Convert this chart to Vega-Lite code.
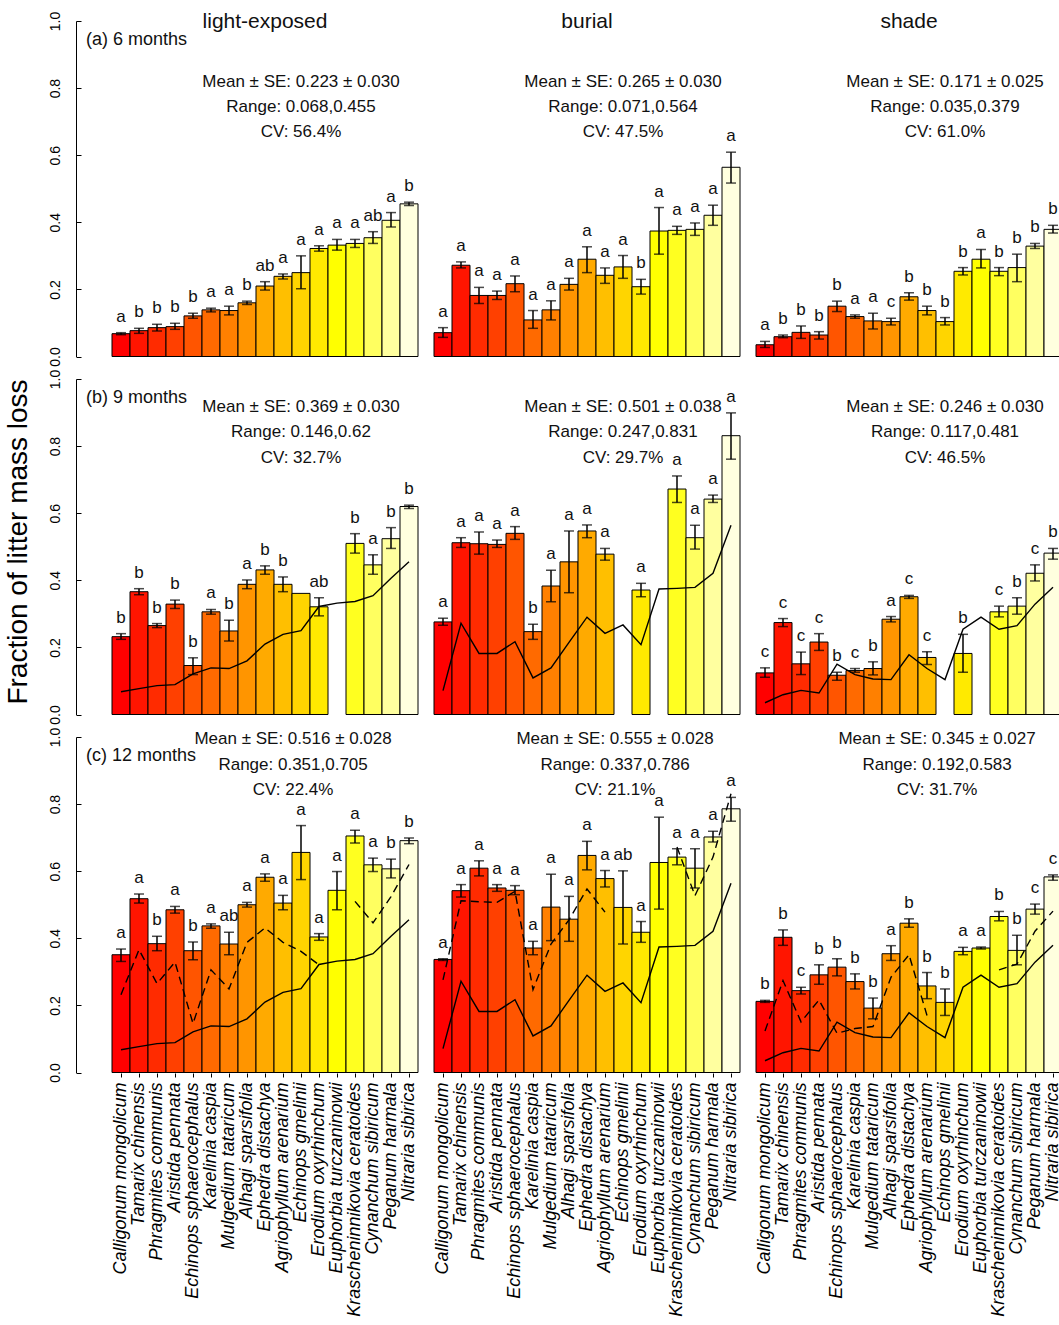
{
"$schema": "https://vega.github.io/schema/vega-lite/v6.json",
"padding": {"left": 4, "top": 11, "right": 0, "bottom": 0},
"background": "white",
"bounds": "flush",
"spacing": {"row": 22, "column": 16},
"data": {"values": [
{"m":6,"c":"light-exposed","s":"Calligonum mongolicum","v":0.068,"lo":0.065,"hi":0.071,"g":"a"},
{"m":6,"c":"light-exposed","s":"Tamarix chinensis","v":0.077,"lo":0.069,"hi":0.084,"g":"b"},
{"m":6,"c":"light-exposed","s":"Phragmites communis","v":0.086,"lo":0.076,"hi":0.096,"g":"b"},
{"m":6,"c":"light-exposed","s":"Aristida pennata","v":0.089,"lo":0.081,"hi":0.099,"g":"b"},
{"m":6,"c":"light-exposed","s":"Echinops sphaerocephalus","v":0.121,"lo":0.114,"hi":0.129,"g":"b"},
{"m":6,"c":"light-exposed","s":"Karelinia caspia","v":0.139,"lo":0.133,"hi":0.144,"g":"a"},
{"m":6,"c":"light-exposed","s":"Mulgedium tataricum","v":0.137,"lo":0.124,"hi":0.150,"g":"a"},
{"m":6,"c":"light-exposed","s":"Alhagi sparsifolia","v":0.160,"lo":0.155,"hi":0.165,"g":"b"},
{"m":6,"c":"light-exposed","s":"Ephedra distachya","v":0.210,"lo":0.198,"hi":0.223,"g":"ab"},
{"m":6,"c":"light-exposed","s":"Agriophyllum arenarium","v":0.239,"lo":0.231,"hi":0.246,"g":"a"},
{"m":6,"c":"light-exposed","s":"Echinops gmelinii","v":0.250,"lo":0.202,"hi":0.300,"g":"a"},
{"m":6,"c":"light-exposed","s":"Erodium oxyrhinchum","v":0.322,"lo":0.314,"hi":0.330,"g":"a"},
{"m":6,"c":"light-exposed","s":"Euphorbia turczaninowii","v":0.332,"lo":0.317,"hi":0.349,"g":"a"},
{"m":6,"c":"light-exposed","s":"Krascheninnikovia ceratoides","v":0.337,"lo":0.325,"hi":0.349,"g":"a"},
{"m":6,"c":"light-exposed","s":"Cynanchum sibiricum","v":0.354,"lo":0.337,"hi":0.372,"g":"ab"},
{"m":6,"c":"light-exposed","s":"Peganum harmala","v":0.406,"lo":0.386,"hi":0.429,"g":"a"},
{"m":6,"c":"light-exposed","s":"Nitraria sibirica","v":0.455,"lo":0.450,"hi":0.460,"g":"b"},
{"m":6,"c":"burial","s":"Calligonum mongolicum","v":0.071,"lo":0.057,"hi":0.086,"g":"a"},
{"m":6,"c":"burial","s":"Tamarix chinensis","v":0.272,"lo":0.264,"hi":0.282,"g":"a"},
{"m":6,"c":"burial","s":"Phragmites communis","v":0.182,"lo":0.158,"hi":0.206,"g":"a"},
{"m":6,"c":"burial","s":"Aristida pennata","v":0.182,"lo":0.170,"hi":0.195,"g":"a"},
{"m":6,"c":"burial","s":"Echinops sphaerocephalus","v":0.217,"lo":0.193,"hi":0.240,"g":"a"},
{"m":6,"c":"burial","s":"Karelinia caspia","v":0.109,"lo":0.084,"hi":0.137,"g":"a"},
{"m":6,"c":"burial","s":"Mulgedium tataricum","v":0.139,"lo":0.109,"hi":0.166,"g":"a"},
{"m":6,"c":"burial","s":"Alhagi sparsifolia","v":0.215,"lo":0.198,"hi":0.233,"g":"a"},
{"m":6,"c":"burial","s":"Ephedra distachya","v":0.290,"lo":0.250,"hi":0.327,"g":"a"},
{"m":6,"c":"burial","s":"Agriophyllum arenarium","v":0.242,"lo":0.218,"hi":0.264,"g":"a"},
{"m":6,"c":"burial","s":"Echinops gmelinii","v":0.267,"lo":0.233,"hi":0.301,"g":"a"},
{"m":6,"c":"burial","s":"Erodium oxyrhinchum","v":0.208,"lo":0.186,"hi":0.230,"g":"b"},
{"m":6,"c":"burial","s":"Euphorbia turczaninowii","v":0.374,"lo":0.305,"hi":0.444,"g":"a"},
{"m":6,"c":"burial","s":"Krascheninnikovia ceratoides","v":0.376,"lo":0.364,"hi":0.388,"g":"a"},
{"m":6,"c":"burial","s":"Cynanchum sibiricum","v":0.379,"lo":0.361,"hi":0.398,"g":"a"},
{"m":6,"c":"burial","s":"Peganum harmala","v":0.421,"lo":0.391,"hi":0.451,"g":"a"},
{"m":6,"c":"burial","s":"Nitraria sibirica","v":0.564,"lo":0.517,"hi":0.609,"g":"a"},
{"m":6,"c":"shade","s":"Calligonum mongolicum","v":0.035,"lo":0.027,"hi":0.045,"g":"a"},
{"m":6,"c":"shade","s":"Tamarix chinensis","v":0.059,"lo":0.056,"hi":0.064,"g":"b"},
{"m":6,"c":"shade","s":"Phragmites communis","v":0.072,"lo":0.054,"hi":0.091,"g":"b"},
{"m":6,"c":"shade","s":"Aristida pennata","v":0.064,"lo":0.052,"hi":0.074,"g":"b"},
{"m":6,"c":"shade","s":"Echinops sphaerocephalus","v":0.150,"lo":0.134,"hi":0.165,"g":"b"},
{"m":6,"c":"shade","s":"Karelinia caspia","v":0.119,"lo":0.114,"hi":0.124,"g":"a"},
{"m":6,"c":"shade","s":"Mulgedium tataricum","v":0.106,"lo":0.082,"hi":0.129,"g":"a"},
{"m":6,"c":"shade","s":"Alhagi sparsifolia","v":0.104,"lo":0.094,"hi":0.114,"g":"c"},
{"m":6,"c":"shade","s":"Ephedra distachya","v":0.178,"lo":0.168,"hi":0.190,"g":"b"},
{"m":6,"c":"shade","s":"Agriophyllum arenarium","v":0.137,"lo":0.124,"hi":0.150,"g":"b"},
{"m":6,"c":"shade","s":"Echinops gmelinii","v":0.104,"lo":0.094,"hi":0.116,"g":"b"},
{"m":6,"c":"shade","s":"Erodium oxyrhinchum","v":0.254,"lo":0.243,"hi":0.265,"g":"b"},
{"m":6,"c":"shade","s":"Euphorbia turczaninowii","v":0.290,"lo":0.264,"hi":0.319,"g":"a"},
{"m":6,"c":"shade","s":"Krascheninnikovia ceratoides","v":0.254,"lo":0.241,"hi":0.265,"g":"b"},
{"m":6,"c":"shade","s":"Cynanchum sibiricum","v":0.265,"lo":0.223,"hi":0.305,"g":"b"},
{"m":6,"c":"shade","s":"Peganum harmala","v":0.329,"lo":0.322,"hi":0.337,"g":"b"},
{"m":6,"c":"shade","s":"Nitraria sibirica","v":0.379,"lo":0.368,"hi":0.391,"g":"b"},
{"m":9,"c":"light-exposed","s":"Calligonum mongolicum","v":0.232,"lo":0.224,"hi":0.241,"g":"b","a6":0.068},
{"m":9,"c":"light-exposed","s":"Tamarix chinensis","v":0.366,"lo":0.357,"hi":0.375,"g":"b","a6":0.077},
{"m":9,"c":"light-exposed","s":"Phragmites communis","v":0.265,"lo":0.259,"hi":0.271,"g":"b","a6":0.086},
{"m":9,"c":"light-exposed","s":"Aristida pennata","v":0.329,"lo":0.316,"hi":0.341,"g":"b","a6":0.089},
{"m":9,"c":"light-exposed","s":"Echinops sphaerocephalus","v":0.146,"lo":0.119,"hi":0.169,"g":"b","a6":0.121},
{"m":9,"c":"light-exposed","s":"Karelinia caspia","v":0.306,"lo":0.299,"hi":0.313,"g":"a","a6":0.139},
{"m":9,"c":"light-exposed","s":"Mulgedium tataricum","v":0.249,"lo":0.219,"hi":0.281,"g":"b","a6":0.137},
{"m":9,"c":"light-exposed","s":"Alhagi sparsifolia","v":0.388,"lo":0.375,"hi":0.401,"g":"a","a6":0.160},
{"m":9,"c":"light-exposed","s":"Ephedra distachya","v":0.431,"lo":0.418,"hi":0.443,"g":"b","a6":0.210},
{"m":9,"c":"light-exposed","s":"Agriophyllum arenarium","v":0.388,"lo":0.366,"hi":0.410,"g":"b","a6":0.239},
{"m":9,"c":"light-exposed","s":"Echinops gmelinii","v":0.361,"lo":null,"hi":null,"g":"","a6":0.250},
{"m":9,"c":"light-exposed","s":"Erodium oxyrhinchum","v":0.321,"lo":0.294,"hi":0.348,"g":"ab","a6":0.322},
{"m":9,"c":"light-exposed","s":"Euphorbia turczaninowii","v":null,"lo":null,"hi":null,"g":"","a6":0.332},
{"m":9,"c":"light-exposed","s":"Krascheninnikovia ceratoides","v":0.510,"lo":0.481,"hi":0.539,"g":"b","a6":0.337},
{"m":9,"c":"light-exposed","s":"Cynanchum sibiricum","v":0.446,"lo":0.418,"hi":0.476,"g":"a","a6":0.354},
{"m":9,"c":"light-exposed","s":"Peganum harmala","v":0.524,"lo":0.495,"hi":0.557,"g":"b","a6":0.406},
{"m":9,"c":"light-exposed","s":"Nitraria sibirica","v":0.620,"lo":0.614,"hi":0.624,"g":"b","a6":0.455},
{"m":9,"c":"burial","s":"Calligonum mongolicum","v":0.276,"lo":0.266,"hi":0.287,"g":"a","a6":0.071},
{"m":9,"c":"burial","s":"Tamarix chinensis","v":0.512,"lo":0.498,"hi":0.527,"g":"a","a6":0.272},
{"m":9,"c":"burial","s":"Phragmites communis","v":0.509,"lo":0.478,"hi":0.544,"g":"a","a6":0.182},
{"m":9,"c":"burial","s":"Aristida pennata","v":0.507,"lo":0.498,"hi":0.520,"g":"a","a6":0.182},
{"m":9,"c":"burial","s":"Echinops sphaerocephalus","v":0.540,"lo":0.522,"hi":0.560,"g":"a","a6":0.217},
{"m":9,"c":"burial","s":"Karelinia caspia","v":0.247,"lo":0.224,"hi":0.269,"g":"b","a6":0.109},
{"m":9,"c":"burial","s":"Mulgedium tataricum","v":0.383,"lo":0.336,"hi":0.430,"g":"a","a6":0.139},
{"m":9,"c":"burial","s":"Alhagi sparsifolia","v":0.455,"lo":0.363,"hi":0.547,"g":"a","a6":0.215},
{"m":9,"c":"burial","s":"Ephedra distachya","v":0.547,"lo":0.527,"hi":0.565,"g":"a","a6":0.290},
{"m":9,"c":"burial","s":"Agriophyllum arenarium","v":0.478,"lo":0.460,"hi":0.495,"g":"a","a6":0.242},
{"m":9,"c":"burial","s":"Echinops gmelinii","v":null,"lo":null,"hi":null,"g":"","a6":0.267},
{"m":9,"c":"burial","s":"Erodium oxyrhinchum","v":0.371,"lo":0.351,"hi":0.391,"g":"a","a6":0.208},
{"m":9,"c":"burial","s":"Euphorbia turczaninowii","v":null,"lo":null,"hi":null,"g":"","a6":0.374},
{"m":9,"c":"burial","s":"Krascheninnikovia ceratoides","v":0.672,"lo":0.632,"hi":0.711,"g":"a","a6":0.376},
{"m":9,"c":"burial","s":"Cynanchum sibiricum","v":0.527,"lo":0.493,"hi":0.564,"g":"a","a6":0.379},
{"m":9,"c":"burial","s":"Peganum harmala","v":0.642,"lo":0.632,"hi":0.654,"g":"a","a6":0.421},
{"m":9,"c":"burial","s":"Nitraria sibirica","v":0.831,"lo":0.761,"hi":0.899,"g":"a","a6":0.564},
{"m":9,"c":"shade","s":"Calligonum mongolicum","v":0.124,"lo":0.111,"hi":0.139,"g":"c","a6":0.035},
{"m":9,"c":"shade","s":"Tamarix chinensis","v":0.274,"lo":0.262,"hi":0.286,"g":"c","a6":0.059},
{"m":9,"c":"shade","s":"Phragmites communis","v":0.151,"lo":0.119,"hi":0.186,"g":"c","a6":0.072},
{"m":9,"c":"shade","s":"Aristida pennata","v":0.216,"lo":0.191,"hi":0.241,"g":"c","a6":0.064},
{"m":9,"c":"shade","s":"Echinops sphaerocephalus","v":0.117,"lo":0.102,"hi":0.126,"g":"b","a6":0.150},
{"m":9,"c":"shade","s":"Karelinia caspia","v":0.131,"lo":0.126,"hi":0.137,"g":"c","a6":0.119},
{"m":9,"c":"shade","s":"Mulgedium tataricum","v":0.137,"lo":0.118,"hi":0.157,"g":"b","a6":0.106},
{"m":9,"c":"shade","s":"Alhagi sparsifolia","v":0.284,"lo":0.276,"hi":0.292,"g":"a","a6":0.104},
{"m":9,"c":"shade","s":"Ephedra distachya","v":0.351,"lo":0.346,"hi":0.355,"g":"c","a6":0.178},
{"m":9,"c":"shade","s":"Agriophyllum arenarium","v":0.170,"lo":0.149,"hi":0.187,"g":"c","a6":0.137},
{"m":9,"c":"shade","s":"Echinops gmelinii","v":null,"lo":null,"hi":null,"g":"","a6":0.104},
{"m":9,"c":"shade","s":"Erodium oxyrhinchum","v":0.182,"lo":0.126,"hi":0.239,"g":"b","a6":0.254},
{"m":9,"c":"shade","s":"Euphorbia turczaninowii","v":null,"lo":null,"hi":null,"g":"","a6":0.290},
{"m":9,"c":"shade","s":"Krascheninnikovia ceratoides","v":0.306,"lo":0.291,"hi":0.323,"g":"c","a6":0.254},
{"m":9,"c":"shade","s":"Cynanchum sibiricum","v":0.323,"lo":0.299,"hi":0.348,"g":"b","a6":0.265},
{"m":9,"c":"shade","s":"Peganum harmala","v":0.421,"lo":0.398,"hi":0.446,"g":"c","a6":0.329},
{"m":9,"c":"shade","s":"Nitraria sibirica","v":0.481,"lo":0.463,"hi":0.495,"g":"b","a6":0.379},
{"m":12,"c":"light-exposed","s":"Calligonum mongolicum","v":0.351,"lo":0.331,"hi":0.368,"g":"a","a6":0.068,"a9":0.232},
{"m":12,"c":"light-exposed","s":"Tamarix chinensis","v":0.518,"lo":0.505,"hi":0.532,"g":"a","a6":0.077,"a9":0.366},
{"m":12,"c":"light-exposed","s":"Phragmites communis","v":0.384,"lo":0.363,"hi":0.406,"g":"b","a6":0.086,"a9":0.265},
{"m":12,"c":"light-exposed","s":"Aristida pennata","v":0.485,"lo":0.475,"hi":0.495,"g":"a","a6":0.089,"a9":0.329},
{"m":12,"c":"light-exposed","s":"Echinops sphaerocephalus","v":0.363,"lo":0.336,"hi":0.389,"g":"b","a6":0.121,"a9":0.146},
{"m":12,"c":"light-exposed","s":"Karelinia caspia","v":0.437,"lo":0.430,"hi":0.443,"g":"a","a6":0.139,"a9":0.306},
{"m":12,"c":"light-exposed","s":"Mulgedium tataricum","v":0.383,"lo":0.351,"hi":0.418,"g":"ab","a6":0.137,"a9":0.249},
{"m":12,"c":"light-exposed","s":"Alhagi sparsifolia","v":0.500,"lo":0.493,"hi":0.507,"g":"a","a6":0.160,"a9":0.388},
{"m":12,"c":"light-exposed","s":"Ephedra distachya","v":0.582,"lo":0.570,"hi":0.592,"g":"a","a6":0.210,"a9":0.431},
{"m":12,"c":"light-exposed","s":"Agriophyllum arenarium","v":0.505,"lo":0.485,"hi":0.528,"g":"a","a6":0.239,"a9":0.388},
{"m":12,"c":"light-exposed","s":"Echinops gmelinii","v":0.656,"lo":0.575,"hi":0.736,"g":"a","a6":0.250,"a9":0.361},
{"m":12,"c":"light-exposed","s":"Erodium oxyrhinchum","v":0.404,"lo":0.394,"hi":0.414,"g":"a","a6":0.322,"a9":0.321},
{"m":12,"c":"light-exposed","s":"Euphorbia turczaninowii","v":0.543,"lo":0.485,"hi":0.599,"g":"a","a6":0.332,"a9":null},
{"m":12,"c":"light-exposed","s":"Krascheninnikovia ceratoides","v":0.705,"lo":0.684,"hi":0.722,"g":"a","a6":0.337,"a9":0.510},
{"m":12,"c":"light-exposed","s":"Cynanchum sibiricum","v":0.619,"lo":0.599,"hi":0.639,"g":"a","a6":0.354,"a9":0.446},
{"m":12,"c":"light-exposed","s":"Peganum harmala","v":0.607,"lo":0.580,"hi":0.636,"g":"b","a6":0.406,"a9":0.524},
{"m":12,"c":"light-exposed","s":"Nitraria sibirica","v":0.691,"lo":0.682,"hi":0.699,"g":"b","a6":0.455,"a9":0.620},
{"m":12,"c":"burial","s":"Calligonum mongolicum","v":0.337,"lo":0.334,"hi":0.339,"g":"a","a6":0.071,"a9":0.276},
{"m":12,"c":"burial","s":"Tamarix chinensis","v":0.542,"lo":0.523,"hi":0.560,"g":"a","a6":0.272,"a9":0.512},
{"m":12,"c":"burial","s":"Phragmites communis","v":0.609,"lo":0.586,"hi":0.631,"g":"a","a6":0.182,"a9":0.509},
{"m":12,"c":"burial","s":"Aristida pennata","v":0.550,"lo":0.540,"hi":0.560,"g":"a","a6":0.182,"a9":0.507},
{"m":12,"c":"burial","s":"Echinops sphaerocephalus","v":0.543,"lo":0.530,"hi":0.557,"g":"a","a6":0.217,"a9":0.540},
{"m":12,"c":"burial","s":"Karelinia caspia","v":0.371,"lo":0.351,"hi":0.391,"g":"a","a6":0.109,"a9":0.247},
{"m":12,"c":"burial","s":"Mulgedium tataricum","v":0.493,"lo":0.393,"hi":0.591,"g":"a","a6":0.139,"a9":0.383},
{"m":12,"c":"burial","s":"Alhagi sparsifolia","v":0.457,"lo":0.391,"hi":0.525,"g":"a","a6":0.215,"a9":0.455},
{"m":12,"c":"burial","s":"Ephedra distachya","v":0.647,"lo":0.604,"hi":0.689,"g":"a","a6":0.290,"a9":0.547},
{"m":12,"c":"burial","s":"Agriophyllum arenarium","v":0.578,"lo":0.553,"hi":0.602,"g":"a","a6":0.242,"a9":0.478},
{"m":12,"c":"burial","s":"Echinops gmelinii","v":0.492,"lo":0.383,"hi":0.601,"g":"ab","a6":0.267,"a9":null},
{"m":12,"c":"burial","s":"Erodium oxyrhinchum","v":0.418,"lo":0.388,"hi":0.450,"g":"a","a6":0.208,"a9":0.371},
{"m":12,"c":"burial","s":"Euphorbia turczaninowii","v":0.626,"lo":0.487,"hi":0.761,"g":"a","a6":0.374,"a9":null},
{"m":12,"c":"burial","s":"Krascheninnikovia ceratoides","v":0.642,"lo":0.619,"hi":0.667,"g":"a","a6":0.376,"a9":0.672},
{"m":12,"c":"burial","s":"Cynanchum sibiricum","v":0.609,"lo":0.550,"hi":0.667,"g":"a","a6":0.379,"a9":0.527},
{"m":12,"c":"burial","s":"Peganum harmala","v":0.702,"lo":0.687,"hi":0.719,"g":"a","a6":0.421,"a9":0.642},
{"m":12,"c":"burial","s":"Nitraria sibirica","v":0.786,"lo":0.749,"hi":0.820,"g":"a","a6":0.564,"a9":0.831},
{"m":12,"c":"shade","s":"Calligonum mongolicum","v":0.212,"lo":0.209,"hi":0.215,"g":"b","a6":0.035,"a9":0.124},
{"m":12,"c":"shade","s":"Tamarix chinensis","v":0.403,"lo":0.379,"hi":0.425,"g":"b","a6":0.059,"a9":0.274},
{"m":12,"c":"shade","s":"Phragmites communis","v":0.244,"lo":0.234,"hi":0.254,"g":"c","a6":0.072,"a9":0.151},
{"m":12,"c":"shade","s":"Aristida pennata","v":0.291,"lo":0.263,"hi":0.321,"g":"b","a6":0.064,"a9":0.216},
{"m":12,"c":"shade","s":"Echinops sphaerocephalus","v":0.314,"lo":0.288,"hi":0.339,"g":"b","a6":0.150,"a9":0.117},
{"m":12,"c":"shade","s":"Karelinia caspia","v":0.271,"lo":0.249,"hi":0.294,"g":"b","a6":0.119,"a9":0.131},
{"m":12,"c":"shade","s":"Mulgedium tataricum","v":0.192,"lo":0.160,"hi":0.222,"g":"b","a6":0.106,"a9":0.137},
{"m":12,"c":"shade","s":"Alhagi sparsifolia","v":0.354,"lo":0.334,"hi":0.378,"g":"a","a6":0.104,"a9":0.284},
{"m":12,"c":"shade","s":"Ephedra distachya","v":0.445,"lo":0.433,"hi":0.458,"g":"b","a6":0.178,"a9":0.351},
{"m":12,"c":"shade","s":"Agriophyllum arenarium","v":0.258,"lo":0.220,"hi":0.298,"g":"b","a6":0.137,"a9":0.170},
{"m":12,"c":"shade","s":"Echinops gmelinii","v":0.209,"lo":0.170,"hi":0.249,"g":"b","a6":0.104,"a9":null},
{"m":12,"c":"shade","s":"Erodium oxyrhinchum","v":0.361,"lo":0.351,"hi":0.373,"g":"a","a6":0.254,"a9":0.182},
{"m":12,"c":"shade","s":"Euphorbia turczaninowii","v":0.371,"lo":0.368,"hi":0.374,"g":"a","a6":0.290,"a9":null},
{"m":12,"c":"shade","s":"Krascheninnikovia ceratoides","v":0.465,"lo":0.452,"hi":0.480,"g":"b","a6":0.254,"a9":0.306},
{"m":12,"c":"shade","s":"Cynanchum sibiricum","v":0.364,"lo":0.321,"hi":0.409,"g":"b","a6":0.265,"a9":0.323},
{"m":12,"c":"shade","s":"Peganum harmala","v":0.487,"lo":0.472,"hi":0.502,"g":"c","a6":0.329,"a9":0.421},
{"m":12,"c":"shade","s":"Nitraria sibirica","v":0.583,"lo":0.573,"hi":0.589,"g":"c","a6":0.379,"a9":0.481},
{"t":"ct","m":6,"c":"light-exposed","txt":"light-exposed"},
{"t":"ct","m":6,"c":"burial","txt":"burial"},
{"t":"ct","m":6,"c":"shade","txt":"shade"},
{"t":"pl","m":6,"c":"light-exposed","txt":"(a) 6 months"},
{"t":"pl","m":9,"c":"light-exposed","txt":"(b) 9 months"},
{"t":"pl","m":12,"c":"light-exposed","txt":"(c) 12 months"},
{"t":"st","m":6,"c":"light-exposed","txt":["Mean ± SE: 0.223 ± 0.030","Range: 0.068,0.455","CV: 56.4%"]},
{"t":"st","m":6,"c":"burial","txt":["Mean ± SE: 0.265 ± 0.030","Range: 0.071,0.564","CV: 47.5%"]},
{"t":"st","m":6,"c":"shade","txt":["Mean ± SE: 0.171 ± 0.025","Range: 0.035,0.379","CV: 61.0%"]},
{"t":"st","m":9,"c":"light-exposed","txt":["Mean ± SE: 0.369 ± 0.030","Range: 0.146,0.62","CV: 32.7%"]},
{"t":"st","m":9,"c":"burial","txt":["Mean ± SE: 0.501 ± 0.038","Range: 0.247,0.831","CV: 29.7%"]},
{"t":"st","m":9,"c":"shade","txt":["Mean ± SE: 0.246 ± 0.030","Range: 0.117,0.481","CV: 46.5%"]},
{"t":"st","m":12,"c":"light-exposed","txt":["Mean ± SE: 0.516 ± 0.028","Range: 0.351,0.705","CV: 22.4%"]},
{"t":"st","m":12,"c":"burial","txt":["Mean ± SE: 0.555 ± 0.028","Range: 0.337,0.786","CV: 21.1%"]},
{"t":"st","m":12,"c":"shade","txt":["Mean ± SE: 0.345 ± 0.027","Range: 0.192,0.583","CV: 31.7%"]}
]},
"facet": {
  "row": {"field": "m", "type": "ordinal", "sort": [6, 9, 12], "title": "Fraction of litter mass loss",
    "header": {"labels": false, "titleFontSize": 28, "titleFontWeight": "normal", "titleColor": "black", "titlePadding": 5.5, "titleFont": "Liberation Sans"}},
  "column": {"field": "c", "type": "nominal", "sort": ["light-exposed", "burial", "shade"], "title": null, "header": {"labels": false}}
},
"spec": {
  "width": 306,
  "height": 335.5,
  "layer": [
    {
      "transform": [{"filter": "isValid(datum.v)"}],
      "mark": {"type": "bar", "stroke": "black", "strokeWidth": 1},
      "encoding": {
        "x": {"field": "s", "type": "nominal",
          "scale": {"domain": ["Calligonum mongolicum","Tamarix chinensis","Phragmites communis","Aristida pennata","Echinops sphaerocephalus","Karelinia caspia","Mulgedium tataricum","Alhagi sparsifolia","Ephedra distachya","Agriophyllum arenarium","Echinops gmelinii","Erodium oxyrhinchum","Euphorbia turczaninowii","Krascheninnikovia ceratoides","Cynanchum sibiricum","Peganum harmala","Nitraria sibirica"], "paddingInner": 0, "paddingOuter": 0},
          "axis": {"title": null, "labelAngle": -90, "labelAlign": "right", "labelBaseline": "middle", "labelFontSize": 18, "labelFontStyle": "italic", "labelColor": "black", "labelPadding": 5, "labelLimit": 400, "labelOverlap": false, "tickSize": 4, "tickColor": "black", "domain": false}},
        "y": {"field": "v", "type": "quantitative",
          "scale": {"domain": [0, 1], "nice": false, "zero": true},
          "axis": {"title": null, "values": [0, 0.2, 0.4, 0.6, 0.8, 1], "format": ".1f", "offset": 36, "labelAngle": -90, "labelAlign": "center", "labelBaseline": "bottom", "labelFontSize": 14, "labelColor": "black", "labelPadding": 19, "tickSize": -5, "tickColor": "black", "domainColor": "black", "grid": false, "labelFlush": false, "labelOverlap": false}},
        "color": {"field": "s", "type": "nominal", "legend": null,
          "scale": {"domain": ["Calligonum mongolicum","Tamarix chinensis","Phragmites communis","Aristida pennata","Echinops sphaerocephalus","Karelinia caspia","Mulgedium tataricum","Alhagi sparsifolia","Ephedra distachya","Agriophyllum arenarium","Echinops gmelinii","Erodium oxyrhinchum","Euphorbia turczaninowii","Krascheninnikovia ceratoides","Cynanchum sibiricum","Peganum harmala","Nitraria sibirica"],
            "range": ["#FF0000","#FF1500","#FF2B00","#FF4000","#FF5500","#FF6A00","#FF8000","#FF9500","#FFAA00","#FFBF00","#FFD500","#FFEA00","#FFFF00","#FFFF20","#FFFF60","#FFFF9F","#FFFFDF"]}}
      }
    },
    {
      "transform": [{"filter": "isValid(datum.hi)"}],
      "mark": {"type": "rule", "color": "black", "strokeWidth": 1.5},
      "encoding": {"x": {"field": "s", "type": "nominal"}, "y": {"field": "lo", "type": "quantitative"}, "y2": {"field": "hi"}}
    },
    {
      "transform": [{"filter": "isValid(datum.hi)"}],
      "mark": {"type": "tick", "color": "black", "size": 10, "thickness": 1.5},
      "encoding": {"x": {"field": "s", "type": "nominal"}, "y": {"field": "lo", "type": "quantitative"}}
    },
    {
      "transform": [{"filter": "isValid(datum.hi)"}],
      "mark": {"type": "tick", "color": "black", "size": 10, "thickness": 1.5},
      "encoding": {"x": {"field": "s", "type": "nominal"}, "y": {"field": "hi", "type": "quantitative"}}
    },
    {
      "transform": [{"filter": "isValid(datum.hi)"}],
      "mark": {"type": "text", "fontSize": 17, "baseline": "alphabetic", "align": "center", "dy": -11, "color": "#111111"},
      "encoding": {"x": {"field": "s", "type": "nominal"}, "y": {"field": "hi", "type": "quantitative"}, "text": {"field": "g", "type": "nominal"}}
    },
    {
      "transform": [{"filter": "isValid(datum.a6)"}],
      "mark": {"type": "line", "color": "black", "strokeWidth": 1.4},
      "encoding": {"x": {"field": "s", "type": "nominal"}, "y": {"field": "a6", "type": "quantitative"}, "order": {"value": null}}
    },
    {
      "transform": [{"filter": "datum.m == 12 && isValid(datum.s)"}],
      "mark": {"type": "line", "color": "black", "strokeWidth": 1.4, "strokeDash": [8, 5], "invalid": "break-paths-show-domains"},
      "encoding": {"x": {"field": "s", "type": "nominal"}, "y": {"field": "a9", "type": "quantitative"}, "order": {"value": null}}
    },
    {
      "transform": [{"filter": "datum.t == 'ct'"}],
      "mark": {"type": "text", "fontSize": 21, "baseline": "middle", "align": "center", "color": "#111111"},
      "encoding": {"x": {"datum": "Ephedra distachya", "type": "nominal", "bandPosition": 0.5}, "y": {"datum": 0.997, "type": "quantitative"}, "text": {"field": "txt", "type": "nominal"}}
    },
    {
      "transform": [{"filter": "datum.t == 'pl'"}],
      "mark": {"type": "text", "fontSize": 18, "baseline": "middle", "align": "left", "dx": -26, "color": "#111111"},
      "encoding": {"x": {"datum": "Calligonum mongolicum", "type": "nominal", "bandPosition": 0}, "y": {"datum": 0.942, "type": "quantitative"}, "text": {"field": "txt", "type": "nominal"}}
    },
    {
      "transform": [{"filter": "datum.t == 'st' && datum.m == 6"}],
      "mark": {"type": "text", "fontSize": 17, "baseline": "top", "align": "center", "lineHeight": 25.3, "color": "#111111"},
      "encoding": {"x": {"datum": "Echinops gmelinii", "type": "nominal", "bandPosition": 0.5}, "y": {"datum": 0.843, "type": "quantitative"}, "text": {"field": "txt", "type": "nominal"}}
    },
    {
      "transform": [{"filter": "datum.t == 'st' && datum.m == 9"}],
      "mark": {"type": "text", "fontSize": 17, "baseline": "top", "align": "center", "lineHeight": 25.3, "color": "#111111"},
      "encoding": {"x": {"datum": "Echinops gmelinii", "type": "nominal", "bandPosition": 0.5}, "y": {"datum": 0.94, "type": "quantitative"}, "text": {"field": "txt", "type": "nominal"}}
    },
    {
      "transform": [{"filter": "datum.t == 'st' && datum.m == 12"}],
      "mark": {"type": "text", "fontSize": 17, "baseline": "top", "align": "center", "lineHeight": 25.3, "color": "#111111"},
      "encoding": {"x": {"datum": "Echinops gmelinii", "type": "nominal", "bandPosition": 0.06}, "y": {"datum": 1.017, "type": "quantitative"}, "text": {"field": "txt", "type": "nominal"}}
    }
  ]
},
"config": {
  "view": {"stroke": null},
  "font": "Liberation Sans",
  "axis": {"labelFont": "Liberation Sans", "domainWidth": 1, "tickWidth": 1}
}
}
